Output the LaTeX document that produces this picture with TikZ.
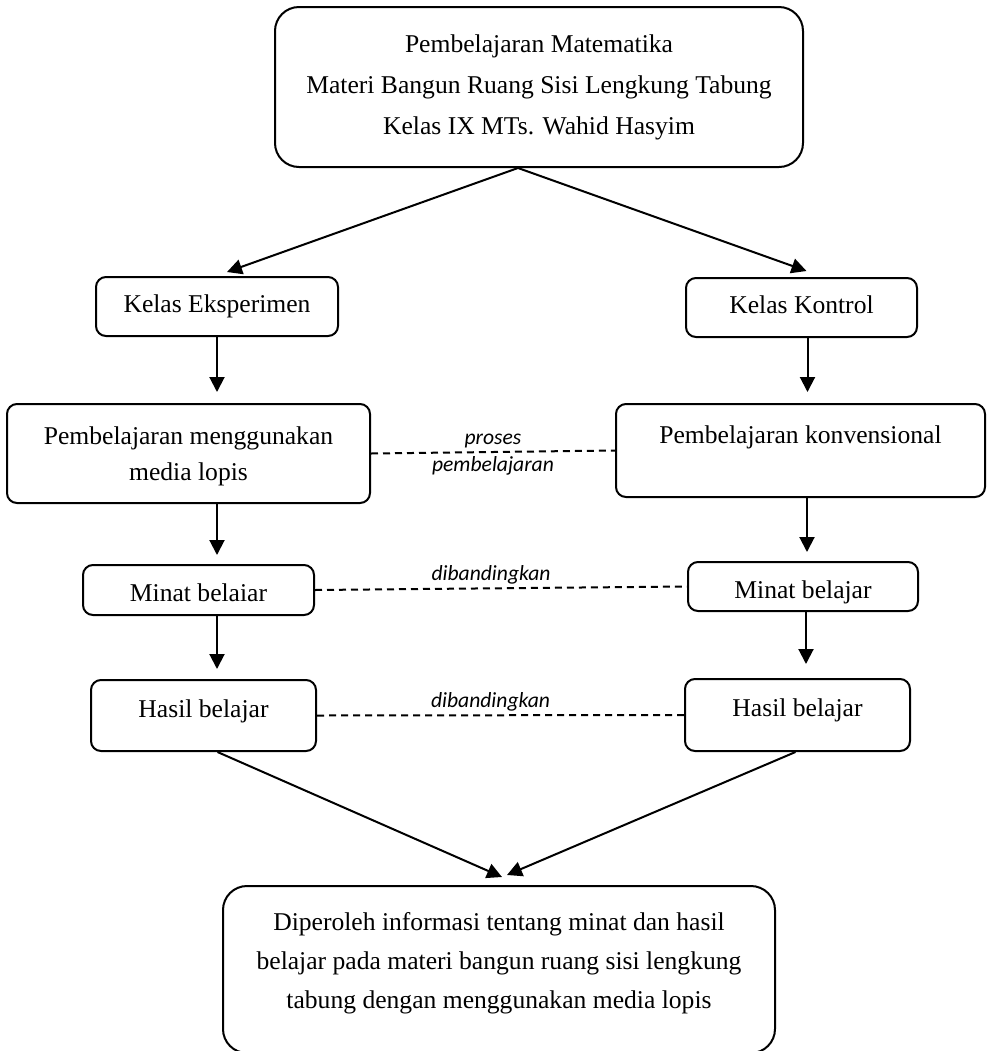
\documentclass[tikz,border=0pt]{standalone}
\usepackage{fontspec}
\setmainfont{Liberation Serif}
\newfontfamily\lblfont{Carlito}
\usepackage{tikz}
\usetikzlibrary{arrows.meta,positioning}

\begin{document}
\begin{tikzpicture}[x=0.5pt, y=-0.5pt,
    box/.style={
        rectangle, rounded corners=5pt, draw=black, line width=1pt,
        inner sep=0pt, align=center, font=\fontsize{12.8}{18}\selectfont
    },
    cell/.style={box, text height=8.8pt, text depth=2.8pt},
    bigbox/.style={box, rounded corners=12pt},
    arr/.style={-{Triangle[length=7.5pt,width=7.5pt]}, line width=1pt},
    cmp/.style={dash pattern=on 3.5pt off 2.5pt, line width=1pt},
    lbl/.style={font=\lblfont\itshape\fontsize{10.8}{13}\selectfont, inner sep=1.5pt}
]
\useasboundingbox (0,0) rectangle (990,1051);

% Top box
\node[bigbox, minimum width=264pt, minimum height=80pt,
      font=\fontsize{12.8}{20.5}\selectfont] (top) at (539,87)
    {Pembelajaran Matematika\\Materi Bangun Ruang Sisi Lengkung Tabung\\Kelas IX MTs. Wahid Hasyim};

% Left column (experiment)
\node[cell, minimum width=121pt, minimum height=29.5pt] (ke) at (217,306.5) {Kelas Eksperimen};
\node[box, minimum width=181.5pt, minimum height=49.5pt, text depth=0pt] (pm) at (188.5,453.5) {Pembelajaran menggunakan\\media lopis};
\node[cell, minimum width=115.5pt, minimum height=25pt, text height=14.5pt] (mbl) at (198.5,590) {Minat belaiar};
\node[cell, minimum width=112.5pt, minimum height=35.5pt, text depth=7pt] (hbl) at (203.5,715.5) {Hasil belajar};

% Right column (control)
\node[cell, minimum width=115.5pt, minimum height=29.5pt] (kk) at (801.5,307.5) {Kelas Kontrol};
\node[cell, minimum width=184.5pt, minimum height=46.5pt, text depth=16pt] (pk) at (800.5,450.5) {Pembelajaran konvensional};
\node[cell, minimum width=115pt, minimum height=24.5pt, text height=14.5pt] (mbr) at (803,586.5) {Minat belajar};
\node[cell, minimum width=112.5pt, minimum height=36pt, text depth=7pt] (hbr) at (797.5,715) {Hasil belajar};

% Result box (runs past the bottom edge)
\node[bigbox, minimum width=276pt, minimum height=83.5pt, text depth=9pt,
      font=\fontsize{12.8}{19.5}\selectfont] (bot) at (499,969.5)
    {Diperoleh informasi tentang minat dan hasil\\belajar pada materi bangun ruang sisi lengkung\\tabung dengan menggunakan media lopis};

% Split into the two classes
\draw[arr] ([xshift=-10.5pt]top.south) -- ([xshift=5pt,yshift=2pt]ke.north);
\draw[arr] ([xshift=-10.5pt]top.south) -- ([xshift=2.5pt,yshift=3pt]kk.north);

% Down the columns
\draw[arr, shorten >=5.5pt] (ke.south) -- (ke.south |- pm.north);
\draw[arr, shorten >=4.5pt] ([xshift=14.25pt]pm.south) -- ([xshift=14.25pt]pm.south |- mbl.north);
\draw[arr, shorten >=5pt] ([xshift=9.25pt]mbl.south) -- ([xshift=9.25pt]mbl.south |- hbl.north);
\draw[arr, shorten >=5.5pt] ([xshift=3pt]kk.south) -- ([xshift=3pt]kk.south |- pk.north);
\draw[arr, shorten >=4.5pt] ([xshift=3.25pt]pk.south) -- ([xshift=3.25pt]pk.south |- mbr.north);
\draw[arr, shorten >=7pt] ([xshift=1.5pt]mbr.south) -- ([xshift=1.5pt]mbr.south |- hbr.north);

% Comparisons
\draw[cmp] (pm.east) -- node[lbl, above]{proses} node[lbl, below]{pembelajaran} (pk.west);
\draw[cmp] (mbl.east) -- node[lbl, above, xshift=-5pt]{dibandingkan} (mbr.west);
\draw[cmp] (hbl.east) -- node[lbl, above, xshift=-5pt]{dibandingkan} (hbr.west);

% Both results into the conclusion
\draw[arr] ([xshift=7pt]hbl.south) -- ([xshift=1.5pt,yshift=4pt]bot.north);
\draw[arr] ([xshift=-1pt]hbr.south) -- ([xshift=4pt,yshift=5pt]bot.north);
\end{tikzpicture}
\end{document}
